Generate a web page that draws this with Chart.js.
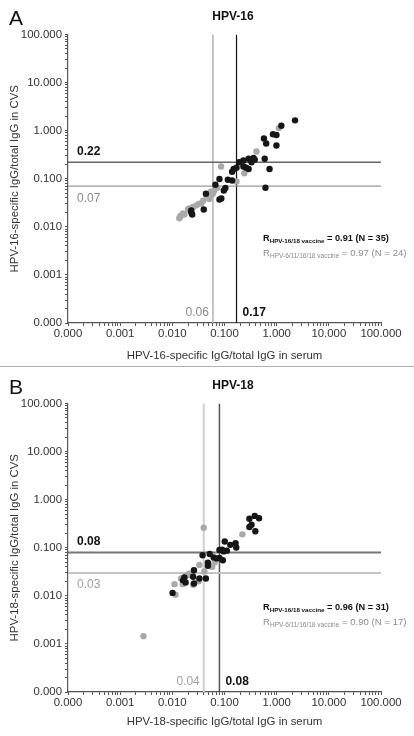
<!DOCTYPE html>
<html>
<head>
<meta charset="utf-8">
<script src="https://cdn.jsdelivr.net/npm/chart.js@4.4.0/dist/chart.umd.min.js"></script>
<style>
  html, body { margin: 0; padding: 0; background: #fff; }
  #wrap { position: relative; width: 414px; height: 736px; }
  canvas { position: absolute; left: 0; }
  #chartA { top: 0; }
  #chartB { top: 369px; }
  #sep { position: absolute; left: 0; top: 366px; width: 414px; height: 0; border-top: 1.5px solid #b0b0b0; }
</style>
</head>
<body>
<div id="wrap">
  <canvas id="chartA" width="414" height="367"></canvas>
  <div id="sep"></div>
  <canvas id="chartB" width="414" height="367"></canvas>
</div>
<script>
// log axes run 0.0001 .. 100, labels printed with 3 decimals
const decadeTicks = [0.0001, 0.001, 0.01, 0.1, 1, 10, 100];
const decadeLabels = ['0.000', '0.001', '0.010', '0.100', '1.000', '10.000', '100.000'];

// HPV-16 - HPV-16/18 vaccine (black)
const hpv16BivSerum = [2.25, 1.23, 0.85, 0.99, 0.57, 0.63, 0.99, 0.19, 0.23, 0.29, 0.38, 0.33, 0.59, 0.23, 0.29, 0.15, 0.14, 0.73, 0.080, 0.116, 0.14, 0.067, 0.61, 0.104, 0.097, 0.080, 0.087, 0.044, 0.040, 0.023, 0.024, 0.023, 0.17, 0.26, 0.36];
const hpv16BivCvs = [1.64, 1.27, 0.84, 0.81, 0.69, 0.54, 0.49, 0.22, 0.24, 0.26, 0.25, 0.22, 0.26, 0.18, 0.16, 0.16, 0.14, 0.16, 0.099, 0.095, 0.092, 0.075, 0.065, 0.064, 0.057, 0.037, 0.039, 0.049, 0.023, 0.022, 0.018, 0.020, 0.17, 0.17, 0.27];
// HPV-16 - HPV-6/11/16/18 vaccine (grey)
const hpv16QuadSerum = [1.1, 0.41, 0.24, 0.086, 0.17, 0.055, 0.064, 0.060, 0.051, 0.036, 0.029, 0.025, 0.020, 0.017, 0.014, 0.0136, 0.039, 0.073, 0.021, 0.016, 0.032, 0.058, 0.045, 0.0145];
const hpv16QuadCvs = [1.13, 0.37, 0.13, 0.18, 0.088, 0.054, 0.057, 0.050, 0.038, 0.031, 0.028, 0.026, 0.023, 0.018, 0.016, 0.015, 0.035, 0.065, 0.024, 0.019, 0.030, 0.047, 0.045, 0.017];
const hpv16SerumCut = [0.17, 0.06];   // black, grey
const hpv16CvsCut = [0.22, 0.07];
const hpv16R = [0.91, 0.97];
const hpv16N = [35, 24];

// HPV-18 - HPV-16/18 vaccine (black)
const hpv18BivSerum = [0.38, 0.30, 0.46, 0.33, 0.30, 0.39, 0.101, 0.129, 0.163, 0.168, 0.080, 0.090, 0.111, 0.096, 0.038, 0.052, 0.062, 0.071, 0.080, 0.093, 0.048, 0.048, 0.026, 0.025, 0.033, 0.044, 0.017, 0.016, 0.018, 0.026, 0.0101];
const hpv18BivCvs = [0.46, 0.40, 0.41, 0.30, 0.27, 0.22, 0.135, 0.115, 0.125, 0.101, 0.090, 0.091, 0.087, 0.084, 0.070, 0.074, 0.063, 0.060, 0.061, 0.055, 0.049, 0.042, 0.034, 0.025, 0.023, 0.023, 0.024, 0.021, 0.019, 0.018, 0.0115];
// HPV-18 - HPV-6/11/16/18 vaccine (grey)
const hpv18QuadSerum = [0.040, 0.22, 0.058, 0.033, 0.041, 0.021, 0.018, 0.0147, 0.011, 0.0158, 0.0115, 0.0028, 0.025, 0.055, 0.021, 0.065, 0.032];
const hpv18QuadCvs = [0.26, 0.19, 0.040, 0.044, 0.032, 0.029, 0.026, 0.023, 0.0175, 0.0175, 0.0105, 0.00145, 0.017, 0.042, 0.027, 0.050, 0.020];
const hpv18SerumCut = [0.08, 0.04];
const hpv18CvsCut = [0.08, 0.03];
const hpv18R = [0.96, 0.90];
const hpv18N = [31, 17];

const FONT = '"Liberation Sans", Arial, Helvetica, sans-serif';
const DARK = '#161616';
const GREY = '#a9a9a9';

function pts(xs, ys) {
  return xs.map((x, i) => ({ x: x, y: ys[i] }));
}

function logAxis(title, isX, titlePad) {
  return {
    type: 'logarithmic',
    min: decadeTicks[0],
    max: decadeTicks[decadeTicks.length - 1],
    afterBuildTicks(axis) {
      const t = [];
      decadeTicks.forEach((d, i) => {
        t.push({ value: d, lbl: decadeLabels[i] });
        if (i < decadeTicks.length - 1) {
          for (let k = 2; k <= 9; k++) t.push({ value: d * k, lbl: '' });
        }
      });
      axis.ticks = t;
    },
    afterFit(axis) {
      if (isX) axis.height = 44; else axis.width = 68;
    },
    ticks: {
      autoSkip: false, maxRotation: 0, padding: isX ? 1.5 : 3,
      color: '#333', font: { family: FONT, size: 11.4 },
      callback: (v, i, ticks) => ticks[i].lbl
    },
    grid: { drawOnChartArea: false, drawTicks: true, tickLength: 3, tickColor: '#555' },
    border: { color: '#555', width: 1.2 },
    title: {
      display: true, text: title, color: '#333', font: { family: FONT, size: 11.4 },
      padding: isX ? { top: 0, bottom: titlePad } : { top: 8.5, bottom: 0 }
    }
  };
}

function drawR(ctx, x, y, sub, rest, bold, color, size) {
  const w = bold ? 'bold ' : '';
  ctx.fillStyle = color;
  ctx.textAlign = 'left';
  ctx.font = w + size + 'px ' + FONT;
  ctx.fillText('R', x, y);
  x += ctx.measureText('R').width;
  ctx.font = w + (size * 0.68) + 'px ' + FONT;
  ctx.fillText(sub, x, y + 2);
  x += ctx.measureText(sub).width;
  ctx.font = w + size + 'px ' + FONT;
  ctx.fillText(rest, x, y);
}

function makeChart(id, cfg) {
  const lo = decadeTicks[0], hi = decadeTicks[decadeTicks.length - 1];
  const vLine = (v, color, w) => ({ data: [{ x: v, y: lo }, { x: v, y: hi }], showLine: true, pointRadius: 0, borderColor: color, borderWidth: w });
  const hLine = (v, color, w) => ({ data: [{ x: lo, y: v }, { x: hi, y: v }], showLine: true, pointRadius: 0, borderColor: color, borderWidth: w });

  const annot = {
    id: 'annot',
    afterDatasetsDraw(chart) {
      const { ctx, chartArea: ca, scales: { x, y } } = chart;
      ctx.save();
      ctx.textBaseline = 'alphabetic';
      // panel letter + title
      ctx.fillStyle = '#111';
      ctx.textAlign = 'left';
      ctx.font = '21px ' + FONT;
      ctx.fillText(cfg.letter, 9, 25);
      ctx.textAlign = 'center';
      ctx.font = 'bold 12px ' + FONT;
      ctx.fillText(cfg.title, 233, 19.5);

      // cut-off labels
      ctx.font = 'bold 12px ' + FONT;
      ctx.fillStyle = '#111';
      ctx.textAlign = 'left';
      ctx.fillText(cfg.cvsCut[0].toFixed(2), ca.left + 9, y.getPixelForValue(cfg.cvsCut[0]) - 7);
      ctx.fillText(cfg.serumCut[0].toFixed(2), x.getPixelForValue(cfg.serumCut[0]) + 6, ca.bottom - 7);
      ctx.font = '12px ' + FONT;
      ctx.fillStyle = cfg.greyText;
      ctx.fillText(cfg.cvsCut[1].toFixed(2), ca.left + 9, y.getPixelForValue(cfg.cvsCut[1]) + 15.5);
      ctx.textAlign = 'right';
      ctx.fillText(cfg.serumCut[1].toFixed(2), x.getPixelForValue(cfg.serumCut[1]) - 4, ca.bottom - 7);

      // correlation notes
      drawR(ctx, ca.left + 195, ca.top + 206.5, 'HPV-16/18 vaccine',
        ' = ' + cfg.r[0].toFixed(2) + ' (N = ' + cfg.n[0] + ')', true, '#111', 9.2);
      drawR(ctx, ca.left + 195, ca.top + 221, 'HPV-6/11/16/18 vaccine',
        ' = ' + cfg.r[1].toFixed(2) + ' (N = ' + cfg.n[1] + ')', false, '#8c8c8c', 9.6);
      ctx.restore();
    }
  };

  new Chart(document.getElementById(id), {
    type: 'scatter',
    data: {
      datasets: [
        { data: pts(cfg.bivX, cfg.bivY), backgroundColor: DARK, pointRadius: 3.2, borderWidth: 0 },
        { data: pts(cfg.quadX, cfg.quadY), backgroundColor: GREY, pointRadius: 3.2, borderWidth: 0 },
        hLine(cfg.cvsCut[0], cfg.lineCols[0], cfg.lineW[0]),
        hLine(cfg.cvsCut[1], cfg.lineCols[1], cfg.lineW[1]),
        vLine(cfg.serumCut[0], cfg.lineCols[2], cfg.lineW[2]),
        vLine(cfg.serumCut[1], cfg.lineCols[3], cfg.lineW[3])
      ]
    },
    options: {
      responsive: false,
      animation: false,
      layout: { padding: { top: 34.5, right: 33, bottom: 0, left: 0 } },
      plugins: { legend: { display: false }, tooltip: { enabled: false } },
      scales: {
        x: logAxis(cfg.xTitle, true, cfg.xTitlePad),
        y: logAxis(cfg.yTitle, false)
      }
    },
    plugins: [annot]
  });
}

makeChart('chartA', {
  letter: 'A', title: 'HPV-16',
  xTitle: 'HPV-16-specific IgG/total IgG in serum',
  yTitle: 'HPV-16-specific IgG/total IgG in CVS',
  xTitlePad: 4.8,
  bivX: hpv16BivSerum, bivY: hpv16BivCvs,
  quadX: hpv16QuadSerum, quadY: hpv16QuadCvs,
  serumCut: hpv16SerumCut, cvsCut: hpv16CvsCut,
  r: hpv16R, n: hpv16N,
  lineCols: ['#666666', '#999999', '#111111', '#b0b0b0'],
  lineW: [1.5, 1.2, 1.2, 1.5],
  greyText: '#8a8a8a'
});

makeChart('chartB', {
  letter: 'B', title: 'HPV-18',
  xTitle: 'HPV-18-specific IgG/total IgG in serum',
  yTitle: 'HPV-18-specific IgG/total IgG in CVS',
  xTitlePad: 7.8,
  bivX: hpv18BivSerum, bivY: hpv18BivCvs,
  quadX: hpv18QuadSerum, quadY: hpv18QuadCvs,
  serumCut: hpv18SerumCut, cvsCut: hpv18CvsCut,
  r: hpv18R, n: hpv18N,
  lineCols: ['#777777', '#c4c4c4', '#555555', '#cfcfcf'],
  lineW: [2, 2, 1.5, 2],
  greyText: '#a0a0a0'
});
</script>
</body>
</html>
